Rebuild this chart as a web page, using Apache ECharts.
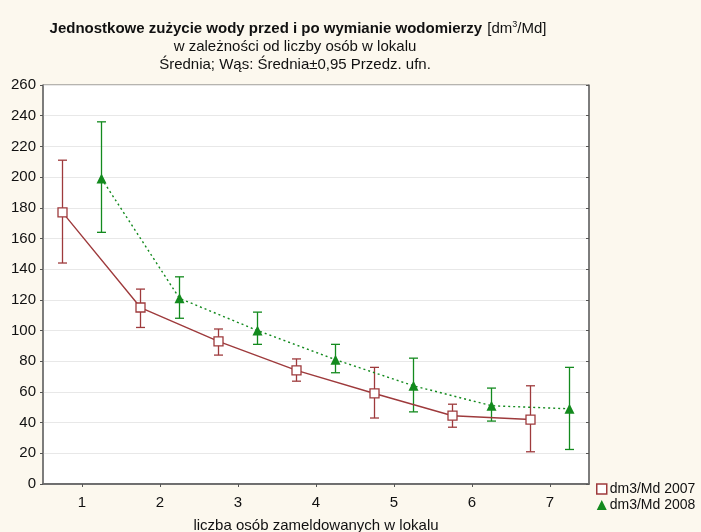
<!DOCTYPE html>
<html>
<head>
<meta charset="utf-8">
<script src="https://cdn.jsdelivr.net/npm/echarts@6.0.0/dist/echarts.min.js"></script>
<style>
  html, body { margin: 0; padding: 0; background: #fcf8ee; }
  #main { width: 701px; height: 532px; }
</style>
</head>
<body>
<div id="main"></div>
<script>
// liczba osób w lokalu
var persons = [1, 2, 3, 4, 5, 6, 7];

// 2007: średnia i 0,95 przedział ufności
var mean2007 = [177, 115, 93, 74, 59, 44.5, 42];
var low2007 = [144, 102, 84, 67, 43, 37, 21];
var high2007 = [211, 127, 101, 81.5, 76, 52, 64];

// 2008
var mean2008 = [199, 121, 100, 81, 64, 51, 49];
var low2008 = [164, 108, 91, 72.5, 47, 41, 22.5];
var high2008 = [236, 135, 112, 91, 82, 62.5, 76];

var yTicks = [0, 20, 40, 60, 80, 100, 120, 140, 160, 180, 200, 220, 240, 260];

var red = '#9e3a3c';
var green = '#138a1e';
var shift = 0.25;

function points(means, dx) {
    return persons.map(function (p, i) { return [p + dx, means[i]]; });
}
function whiskers(lows, highs, dx) {
    return persons.map(function (p, i) { return [p + dx, lows[i], highs[i]]; });
}

function errorBar(color) {
    return function (params, api) {
        var x = api.value(0);
        var a = api.coord([x, api.value(1)]);
        var b = api.coord([x, api.value(2)]);
        var w = 4.5;
        var st = { stroke: color, lineWidth: 1.3 };
        return {
            type: 'group',
            children: [
                { type: 'line', shape: { x1: a[0], y1: a[1], x2: b[0], y2: b[1] }, style: st },
                { type: 'line', shape: { x1: a[0] - w, y1: a[1], x2: a[0] + w, y2: a[1] }, style: st },
                { type: 'line', shape: { x1: b[0] - w, y1: b[1], x2: b[0] + w, y2: b[1] }, style: st }
            ]
        };
    };
}

var chart = echarts.init(document.getElementById('main'));

chart.setOption({
    backgroundColor: '#fcf8ee',
    animation: false,
    textStyle: { fontFamily: 'Liberation Sans, Arial, sans-serif' },
    title: [
        {
            text: '{b|Jednostkowe zużycie wody przed i po wymianie wodomierzy} {n|[dm}{s|3}{n|/Md]}',
            left: 298, top: 20, textAlign: 'center', padding: 0,
            textStyle: {
                rich: {
                    b: { fontSize: 15, fontWeight: 'bold', color: '#111', fontFamily: 'Liberation Sans' },
                    n: { fontSize: 15, fontWeight: 'normal', color: '#111', fontFamily: 'Liberation Sans' },
                    s: { fontSize: 9, fontWeight: 'normal', color: '#111', verticalAlign: 'top', padding: [0, 0, 8, 0], fontFamily: 'Liberation Sans' }
                }
            }
        },
        {
            text: 'w zależności od liczby osób w lokalu',
            left: 295, top: 39, textAlign: 'center', padding: 0,
            textStyle: { fontSize: 15, fontWeight: 'normal', color: '#111' }
        },
        {
            text: 'Średnia; Wąs: Średnia±0,95 Przedz. ufn.',
            left: 295, top: 57, textAlign: 'center', padding: 0,
            textStyle: { fontSize: 15, fontWeight: 'normal', color: '#111' }
        }
    ],
    legend: {
        orient: 'vertical',
        left: 591, top: 477,
        itemGap: 2,
        itemWidth: 10, itemHeight: 10,
        textStyle: { fontSize: 14, color: '#111', padding: [0, 0, 0, -2] },
        data: [
            { name: 'dm3/Md 2007', icon: 'rect', itemStyle: { color: '#ffffff', borderColor: red, borderWidth: 1.5 } },
            { name: 'dm3/Md 2008', icon: 'triangle', itemStyle: { color: green } }
        ]
    },
    grid: {
        left: 43, right: 112, top: 85, bottom: 48,
        outerBoundsMode: 'none',
        show: true, backgroundColor: '#ffffff', borderColor: '#707070', borderWidth: 1
    },
    xAxis: [
        {
            type: 'value', min: 0.5, max: 7.5,
            name: 'liczba osób zameldowanych w lokalu',
            nameLocation: 'middle', nameGap: 34,
            nameTextStyle: { fontSize: 15, color: '#111' },
            axisLine: { lineStyle: { color: '#6a6a6a', width: 1.5 } },
            axisTick: { customValues: persons, length: 3, lineStyle: { color: '#555' } },
            axisLabel: { customValues: persons, fontSize: 15, color: '#111', margin: 11 },
            splitLine: { show: false }
        },
        {
            type: 'value', min: 0.5, max: 7.5, position: 'top',
            axisLine: { lineStyle: { color: '#6a6a6a', width: 1.5 } },
            axisTick: { customValues: persons, length: 3, inside: true, lineStyle: { color: '#555' } },
            axisLabel: { show: false },
            splitLine: { show: false }
        }
    ],
    yAxis: [
        {
            type: 'value', min: 0, max: 260, interval: 20,
            axisLine: { show: true, lineStyle: { color: '#6a6a6a', width: 1.5 } },
            axisTick: { show: true, length: 3, lineStyle: { color: '#555' } },
            axisLabel: { customValues: yTicks, fontSize: 15, color: '#111', margin: 7 },
            splitLine: { show: true, lineStyle: { color: '#e8e8e8', width: 1 } }
        },
        {
            type: 'value', min: 0, max: 260, interval: 20, position: 'right',
            axisLine: { show: true, lineStyle: { color: '#6a6a6a', width: 1.5 } },
            axisTick: { show: true, length: 3, inside: true, lineStyle: { color: '#555' } },
            axisLabel: { show: false },
            splitLine: { show: false }
        }
    ],
    series: [
        {
            type: 'line', name: 'dm3/Md 2007', z: 4,
            data: points(mean2007, -shift),
            symbol: 'rect', symbolSize: 9,
            lineStyle: { color: red, width: 1.4 },
            itemStyle: { color: '#ffffff', borderColor: red, borderWidth: 1.3 }
        },
        {
            type: 'line', name: 'dm3/Md 2008', z: 4,
            data: points(mean2008, shift),
            symbol: 'triangle', symbolSize: 10,
            lineStyle: { color: green, width: 1.4, type: [2, 3] },
            itemStyle: { color: green, borderWidth: 0 }
        },
        {
            type: 'custom', name: 'dm3/Md 2007', z: 3,
            renderItem: errorBar(red),
            itemStyle: { color: red },
            data: whiskers(low2007, high2007, -shift)
        },
        {
            type: 'custom', name: 'dm3/Md 2008', z: 3,
            renderItem: errorBar(green),
            itemStyle: { color: green },
            data: whiskers(low2008, high2008, shift)
        }
    ]
});
</script>
</body>
</html>
